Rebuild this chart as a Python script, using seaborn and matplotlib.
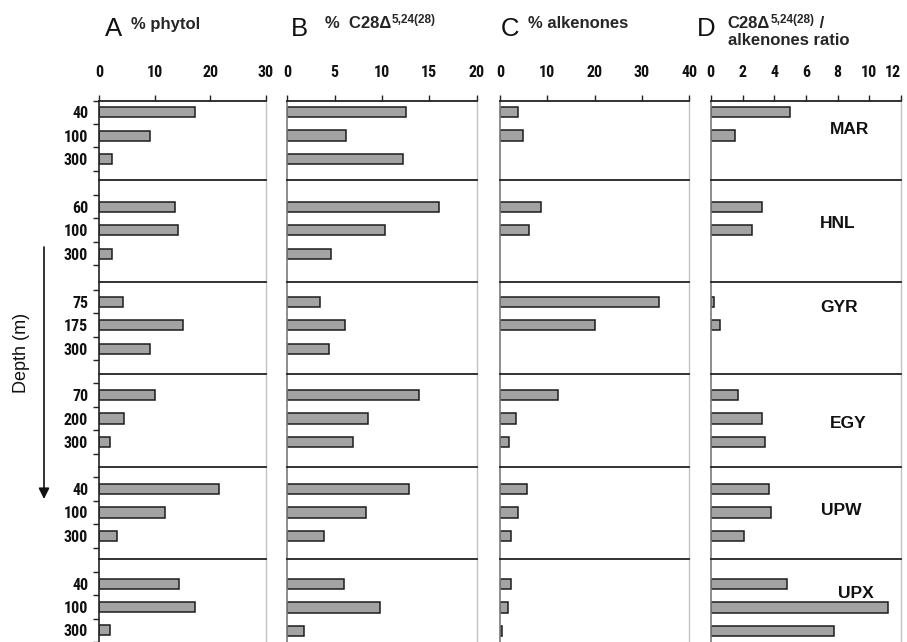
import numpy as np
import pandas as pd
import matplotlib
matplotlib.use("Agg")
import matplotlib.pyplot as plt
from matplotlib import font_manager
import seaborn as sns

# ---- data -------------------------------------------------------------
sites = ["MAR", "HNL", "GYR", "EGY", "UPW", "UPX"]
depths = [[40, 100, 300], [60, 100, 300], [75, 175, 300],
          [70, 200, 300], [40, 100, 300], [40, 100, 300]]

phytol = [17.2, 9.2, 2.3, 13.7, 14.1, 2.3, 4.3, 15.1, 9.2,
          10.0, 4.4, 1.9, 21.5, 11.8, 3.1, 14.3, 17.3, 1.9]
c28 = [12.5, 6.2, 12.2, 16.0, 10.3, 4.6, 3.5, 6.1, 4.4,
       13.9, 8.5, 6.9, 12.9, 8.3, 3.9, 6.0, 9.8, 1.8]
alkenones = [3.7, 4.9, np.nan, 8.7, 6.1, np.nan, 33.6, 20.1, np.nan,
             12.3, 3.4, 1.8, 5.8, 3.7, 2.4, 2.3, 1.6, 0.5]
ratio = [5.0, 1.5, np.nan, 3.2, 2.6, np.nan, 0.2, 0.6, np.nan,
         1.7, 3.2, 3.4, 3.7, 3.8, 2.1, 4.8, 11.2, 7.8]

panel_keys = ["phytol", "c28", "alkenones", "ratio"]
panel_xmax = [30, 20, 40, 12]
panel_xticks = [[0, 10, 20, 30], [0, 5, 10, 15, 20],
                [0, 10, 20, 30, 40], [0, 2, 4, 6, 8, 10, 12]]

records = []
for i, site in enumerate(sites):
    for j, d in enumerate(depths[i]):
        k = 3 * i + j
        records.append(dict(site=site, depth=str(d), phytol=phytol[k],
                            c28=c28[k], alkenones=alkenones[k], ratio=ratio[k]))
df = pd.DataFrame(records)

# ---- style ------------------------------------------------------------
sns.set_style("white")
installed = {f.name for f in font_manager.fontManager.ttflist}
narrow = next((n for n in ["Liberation Sans Narrow", "DejaVu Sans Condensed",
                           "Roboto Condensed", "Open Sans Condensed"]
               if n in installed), "Liberation Sans")
plt.rcParams["font.family"] = ["Liberation Sans", "DejaVu Sans"]

W, H = 907, 642
fig = plt.figure(figsize=(W / 100, H / 100), dpi=100)

# layout in pixels
col_spans = [(99.3, 266.0), (287.3, 476.7), (500.0, 689.3), (710.8, 901.0)]
row_edges = [100.7, 180.0, 281.5, 374.3, 467.0, 559.3, 642.0]
first_bar = [112.0, 206.7, 301.7, 395.0, 489.0, 584.0]
slot = 23.5

bar_fill = "#a3a3a3"
bar_edge = "#1c1c1c"
dark = "#222222"

for i, site in enumerate(sites):
    yt, yb = row_edges[i], row_edges[i + 1]
    order = [str(d) for d in depths[i]]
    sub = df[df["site"] == site]
    for c, key in enumerate(panel_keys):
        xl, xr = col_spans[c]
        ax = fig.add_axes([xl / W, 1 - yb / H, (xr - xl) / W, (yb - yt) / H])
        plotted = sub.dropna(subset=[key])
        sns.barplot(data=plotted, x=key, y="depth", order=order, orient="h",
                    color=bar_fill, saturation=1, edgecolor=bar_edge,
                    linewidth=1.1, width=0.43, errorbar=None, ax=ax)
        ax.set_xlim(0, panel_xmax[c])
        ax.set_ylim((yb - first_bar[i]) / slot, (yt - first_bar[i]) / slot)
        ax.set_xlabel("")
        ax.set_ylabel("")
        ax.set_facecolor("none")

        # spines
        ax.spines["bottom"].set_visible(False)
        ax.spines["top"].set_color(dark)
        ax.spines["top"].set_linewidth(1.3)
        ax.spines["right"].set_color("#c4c4c4")
        ax.spines["right"].set_linewidth(1.0)
        ax.spines["left"].set_color(dark if c == 0 else "#7a7a7a")
        ax.spines["left"].set_linewidth(1.2)

        # value axis on top of the first row only
        ax.set_xticks(panel_xticks[c])
        ax.tick_params(axis="x", which="both", bottom=False, labelbottom=False,
                       top=(i == 0), labeltop=(i == 0), direction="out",
                       length=4, width=1.0, color=dark, pad=11)
        if i == 0:
            labels = ax.get_xticklabels()
            for lbl in labels:
                lbl.set_fontfamily(narrow)
                lbl.set_fontweight("bold")
                lbl.set_fontsize(11.5)
                lbl.set_color("#111111")
            if c == len(panel_keys) - 1:
                labels[-1].set_horizontalalignment("right")

        # depth axis labels on the first column
        if c == 0:
            ax.set_yticks(range(3))
            ax.set_yticklabels(order)
            ax.set_yticks([-0.5, 0.5, 1.5, 2.5], minor=True)
            ax.tick_params(axis="y", which="major", left=True, length=0,
                           pad=8, labelleft=True)
            ax.tick_params(axis="y", which="minor", left=True, length=4,
                           width=1.0, direction="out", color=dark)
            for lbl in ax.get_yticklabels():
                lbl.set_fontfamily(narrow)
                lbl.set_fontweight("bold")
                lbl.set_fontsize(11.5)
                lbl.set_color("#111111")
        else:
            ax.tick_params(axis="y", which="both", left=False, labelleft=False)

# ---- annotations ------------------------------------------------------
ov = fig.add_axes([0, 0, 1, 1])
ov.set_axis_off()
ov.set_xlim(0, 1)
ov.set_ylim(0, 1)


def px(x, y):
    return x / W, 1 - y / H


# panel letters
for letter, (x, y) in zip("ABCD", [(105, 36), (290.5, 36), (501, 35.7), (696.5, 36)]):
    ov.text(*px(x, y), letter, fontsize=18.5, ha="left", va="baseline", color="#111111")

ov.text(*px(131, 29.3), "% phytol", fontsize=12, fontweight="bold",
        ha="left", va="baseline")
ov.text(*px(528, 27.5), "% alkenones", fontsize=12, fontweight="bold",
        ha="left", va="baseline")

main_b = ov.text(*px(325, 28.3), "%  C28Δ", fontsize=12, fontweight="bold",
                 ha="left", va="baseline")
ov.annotate("5,24(28)", xy=(1, 1), xycoords=main_b, xytext=(0.5, 1.5),
            textcoords="offset points", fontsize=8.5, fontweight="bold",
            ha="left", va="top")

main_d = ov.text(*px(727.7, 28.3), "C28Δ", fontsize=12, fontweight="bold",
                 ha="left", va="baseline")
sup_d = ov.annotate("5,24(28)", xy=(1, 1), xycoords=main_d, xytext=(0.5, 1.5),
                    textcoords="offset points", fontsize=8.5, fontweight="bold",
                    ha="left", va="top")
ov.annotate(" /", xy=(1, 0), xycoords=(sup_d, main_d), fontsize=12,
            fontweight="bold", ha="left", va="bottom")
ov.text(*px(727.7, 45), "alkenones ratio", fontsize=12, fontweight="bold",
        ha="left", va="baseline")

# site names inside the ratio panel
site_pos = [(850, 129), (838, 224), (839, 307.7), (847.7, 424), (841, 510.7), (855.7, 594)]
for site, (x, y) in zip(sites, site_pos):
    ov.text(*px(x, y), site, fontsize=12.5, fontweight="bold",
            ha="center", va="center", color="#111111")

# depth axis title and arrow
ov.text(*px(22, 353), "Depth (m)", fontsize=13, rotation=90,
        ha="center", va="center", color="#111111")
ov.annotate("", xy=px(44, 499), xytext=px(44, 247),
            arrowprops=dict(arrowstyle="-|>", color="#111111", lw=1.2,
                            mutation_scale=16, shrinkA=0, shrinkB=0))

fig.savefig("out.png", dpi=100)
